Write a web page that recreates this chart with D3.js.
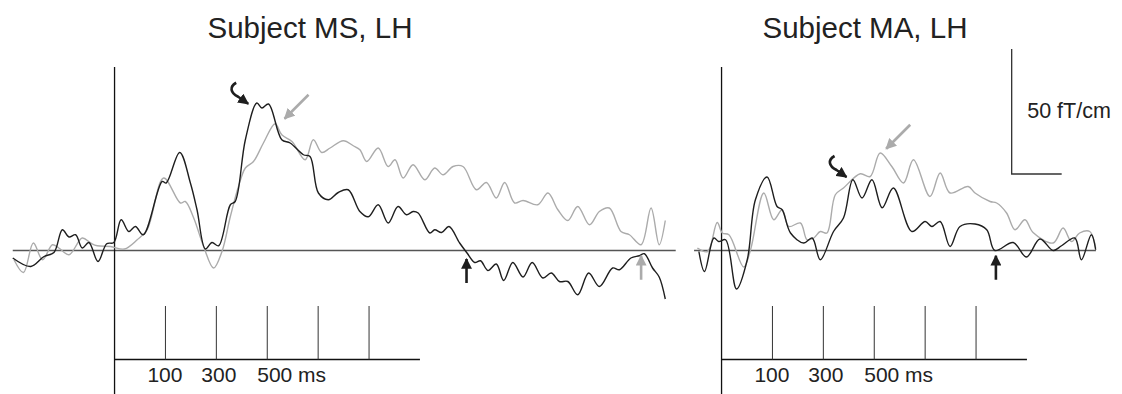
<!DOCTYPE html>
<html>
<head>
    <meta charset="utf-8">
    <style>
        body { margin: 0; background: #fff; }
        text { font-family: "Liberation Sans", Arial, sans-serif; fill: #222; }
    </style>
</head>
<body>
    <svg width="1122" height="394"></svg>
    <script src="https://d3js.org/d3.v7.min.js"></script>
    <script>
        // Subject MS, left hemisphere (time in ms, field in fT/cm)
        let msBlackT = [-500, -429, -377, -338, -305, -279, -253, -227, -201, -165, -131, -103, -74, -44, -18, 13,
            87, 103, 156, 198, 224, 257, 283, 309, 355, 374, 414, 459, 479, 505, 557, 590, 642, 668, 701, 740,
            779, 818, 864, 897, 936, 975, 1014, 1047, 1073, 1093, 1139, 1158, 1185, 1214, 1256, 1285, 1315,
            1338, 1367, 1400, 1429, 1465, 1505, 1541, 1583, 1616, 1648, 1681, 1720, 1763, 1805, 1857, 1884,
            1929, 1962, 1982, 2014, 2040, 2064];
        let msBlackV = [-3.0, -6.4, -2.4, -0.8, 8.3, 5.4, 6.3, 1.0, 3.2, -4.4, 2.7, 3.2, 12.3, 7.6, 9.6, 6.3,
            27.6, 27.0, 39.2, 27.0, 16.3, 0.6, 3.2, 1.9, 18.3, 19.6, 44.3, 59.0, 57.0, 58.6, 44.3, 43.0, 38.3,
            37.6, 23.0, 20.3, 23.2, 24.3, 15.6, 13.5, 18.3, 11.0, 17.6, 14.3, 15.6, 15.0, 7.0, 8.3, 7.2, 9.6,
            3.0, -1.0, -4.8, -4.1, -8.0, -5.4, -12.0, -4.8, -10.6, -4.8, -11.0, -9.0, -12.4, -12.4, -17.7, -9.0,
            -14.4, -7.0, -7.7, -3.0, -2.1, -1.3, -7.0, -10.6, -19.4];
        let msGrayT = [-495, -458, -419, -383, -344, -319, -279, -227, -194, -168, -116, -61, -11, 28, 93, 159,
            178, 211, 250, 289, 322, 355, 387, 414, 446, 485, 531, 557, 597, 649, 681, 714, 747, 799, 838, 864,
            891, 936, 975, 1002, 1034, 1073, 1119, 1158, 1191, 1230, 1269, 1322, 1361, 1400, 1433, 1472, 1505,
            1563, 1603, 1642, 1681, 1720, 1766, 1805, 1844, 1890, 1923, 1969, 2008, 2040, 2064];
        let msGrayV = [-3.7, -8.8, 3.0, -3.7, 2.3, 1.0, -1.7, 5.0, 3.0, 1.9, 1.6, 0.6, 4.3, 8.3, 29.0, 19.0,
            19.6, 13.0, 1.6, -7.0, -0.4, 13.6, 25.6, 33.0, 35.6, 43.0, 50.7, 46.3, 43.6, 36.3, 44.3, 39.2, 41.0,
            43.9, 41.9, 40.3, 35.6, 41.0, 33.6, 36.3, 29.0, 34.3, 28.3, 33.0, 30.3, 33.6, 33.6, 24.3, 27.2, 21.0,
            27.2, 19.0, 20.0, 18.3, 23.0, 16.3, 12.0, 17.6, 10.3, 15.6, 17.0, 7.6, 6.3, 2.3, 17.0, 2.3, 12.0];

        // Subject MA, left hemisphere
        let maBlackT = [-189, -167, -130, -111, -84, -41, 1, 33, 79, 118, 138, 171, 223, 256, 288, 340, 379,
            416, 452, 491, 531, 575, 648, 700, 726, 759, 798, 837, 896, 942, 974, 1046, 1098, 1151, 1203, 1236,
            1288, 1314, 1353, 1370];
        let maBlackV = [-0.4, -8.4, 5.0, 3.6, 4.3, -15.4, -3.7, 20.3, 29.4, 17.6, 16.3, 7.0, 3.0, 5.0, -3.7,
            7.6, 13.0, 28.3, 21.0, 28.3, 17.1, 25.0, 7.6, 11.6, 9.6, 11.6, 1.6, 9.6, 10.6, 8.3, 0.0, 3.2, -2.6,
            4.6, 0.0, 1.9, 5.0, -3.7, 6.3, 0.3];
        let maGrayT = [-195, -155, -117, -97, -71, -13, 14, 66, 105, 138, 164, 210, 236, 262, 288, 314, 347,
            379, 445, 484, 523, 569, 615, 654, 719, 759, 798, 869, 896, 955, 981, 1020, 1053, 1092, 1124, 1203,
            1242, 1275, 1307, 1347, 1370];
        let maGrayV = [1.0, -0.4, 11.2, 7.0, 6.3, -6.6, 0.3, 23.0, 12.3, 16.3, 9.6, 11.0, 4.3, 5.0, 7.6, 7.0,
            22.3, 25.0, 30.7, 29.6, 39.0, 33.6, 27.0, 36.3, 21.6, 31.0, 23.0, 25.6, 23.0, 19.6, 19.0, 15.0, 8.3,
            12.3, 7.2, 3.0, 9.0, 3.6, 7.0, 7.6, 1.0];

        let tickTimes = [100, 300, 500, 700, 900];
        let tickLabels = ["100", "300", "500 ms"];
        let titles = ["Subject MS, LH", "Subject MA, LH"];
        let scaleBarValue = 50, scaleBarLabel = "50 fT/cm";

        // arrows: [time, value] of the tip
        let msCurvedTip = [433, 58.3], msGrayTip = [564, 52.3], msOnsetBlack = [1283, -3.0], msOnsetGray = [1969, -1.7];
        let maCurvedTip = [399, 29.0], maGrayTip = [543, 40.3], maOnsetBlack = [978, -1.7];

        let black = "#1e1e1e", gray = "#ababab";
        let svg = d3.select("svg");
        let y = d3.scaleLinear().domain([0, 50]).range([250.5, 125.5]);
        let timeBaseY = 359.5, tickTopY = 306;

        let defs = svg.append("defs");
        [["headBlack", black], ["headGray", gray]].forEach(function(m) {
            defs.append("marker")
                .attr("id", m[0])
                .attr("viewBox", "0 0 10 10")
                .attr("refX", 9).attr("refY", 5)
                .attr("markerWidth", 4.2).attr("markerHeight", 4.2)
                .attr("markerUnits", "strokeWidth")
                .attr("orient", "auto")
                .append("path")
                .attr("d", "M0,0 L10,5 L0,10 z")
                .attr("fill", m[1]);
        });

        function panel(x0, opt) {
            let x = d3.scaleLinear().domain([0, 100]).range([x0, x0 + 25.45]);
            let g = svg.append("g");

            // zero line
            g.append("line")
                .attr("x1", x(opt.zero[0])).attr("x2", x(opt.zero[1]))
                .attr("y1", y(0)).attr("y2", y(0))
                .attr("stroke", "#555").attr("stroke-width", 1.5);

            // stimulus axis
            g.append("line")
                .attr("x1", x(-100)).attr("x2", x(-100))
                .attr("y1", 67).attr("y2", 394)
                .attr("stroke", "#111").attr("stroke-width", 1.3);

            // time scale
            g.append("line")
                .attr("x1", x(-100)).attr("x2", x(1100))
                .attr("y1", timeBaseY).attr("y2", timeBaseY)
                .attr("stroke", "#111").attr("stroke-width", 1.3);
            g.selectAll(".tick").data(tickTimes).enter().append("line")
                .attr("x1", d => x(d)).attr("x2", d => x(d))
                .attr("y1", tickTopY).attr("y2", timeBaseY)
                .attr("stroke", "#333").attr("stroke-width", 1);
            let labelShift = [-18, -15, -10];
            g.selectAll(".lab").data(tickLabels).enter().append("text")
                .attr("x", (d, i) => x(tickTimes[i]) + labelShift[i])
                .attr("y", 381.5)
                .attr("font-size", 21)
                .text(d => d);

            // title
            g.append("text")
                .attr("x", opt.titleX).attr("y", 38)
                .attr("text-anchor", "middle")
                .attr("font-size", 29.5)
                .text(opt.title);

            let line = d3.line()
                .x(d => x(d[0]))
                .y(d => y(d[1]))
                .curve(d3.curveCatmullRom.alpha(0.5));
            g.append("path")
                .datum(d3.zip(opt.grayT, opt.grayV))
                .attr("d", line)
                .attr("fill", "none").attr("stroke", gray).attr("stroke-width", 1.4);
            g.append("path")
                .datum(d3.zip(opt.blackT, opt.blackV))
                .attr("d", line)
                .attr("fill", "none").attr("stroke", black).attr("stroke-width", 1.4);

            // curved black arrow
            let ct = [x(opt.curved[0]), y(opt.curved[1])];
            g.append("path")
                .attr("transform", "translate(" + ct[0] + "," + ct[1] + ")")
                .attr("d", "M-14,-22 C-21,-18 -20,-12 -12,-8 L-2,-1")
                .attr("fill", "none").attr("stroke", black).attr("stroke-width", 2.6)
                .attr("marker-end", "url(#headBlack)");

            // straight gray arrow
            let gt = [x(opt.grayTip[0]), y(opt.grayTip[1])];
            g.append("line")
                .attr("x1", gt[0] + 25).attr("y1", gt[1] - 25)
                .attr("x2", gt[0] + 1).attr("y2", gt[1] - 1)
                .attr("stroke", gray).attr("stroke-width", 2.6)
                .attr("marker-end", "url(#headGray)");

            // onset arrows
            opt.onsets.forEach(function(o) {
                let ox = x(o[0]), oy = y(o[1]);
                g.append("line")
                    .attr("x1", ox).attr("y1", oy + 25)
                    .attr("x2", ox).attr("y2", oy + 1)
                    .attr("stroke", o[2]).attr("stroke-width", 2.6)
                    .attr("marker-end", o[2] === black ? "url(#headBlack)" : "url(#headGray)");
            });
            return x;
        }

        panel(140, {
            title: titles[0], titleX: 310, zero: [-500, 2105],
            blackT: msBlackT, blackV: msBlackV, grayT: msGrayT, grayV: msGrayV,
            curved: msCurvedTip, grayTip: msGrayTip,
            onsets: [[msOnsetBlack[0], msOnsetBlack[1], black], [msOnsetGray[0], msOnsetGray[1], gray]]
        });
        let xMA = panel(747, {
            title: titles[1], titleX: 865, zero: [-208, 1371],
            blackT: maBlackT, blackV: maBlackV, grayT: maGrayT, grayV: maGrayV,
            curved: maCurvedTip, grayTip: maGrayTip,
            onsets: [[maOnsetBlack[0], maOnsetBlack[1], black]]
        });

        // amplitude scale bar
        let barX = xMA(1040), barBase = 174;
        let barLen = y(0) - y(scaleBarValue);
        svg.append("path")
            .attr("d", "M" + barX + "," + (barBase - barLen) + " V" + barBase + " H" + (barX + 50))
            .attr("fill", "none").attr("stroke", "#333").attr("stroke-width", 1.3);
        svg.append("text")
            .attr("x", barX + 15.5).attr("y", 118)
            .attr("font-size", 21.5)
            .text(scaleBarLabel);
    </script>
</body>
</html>
